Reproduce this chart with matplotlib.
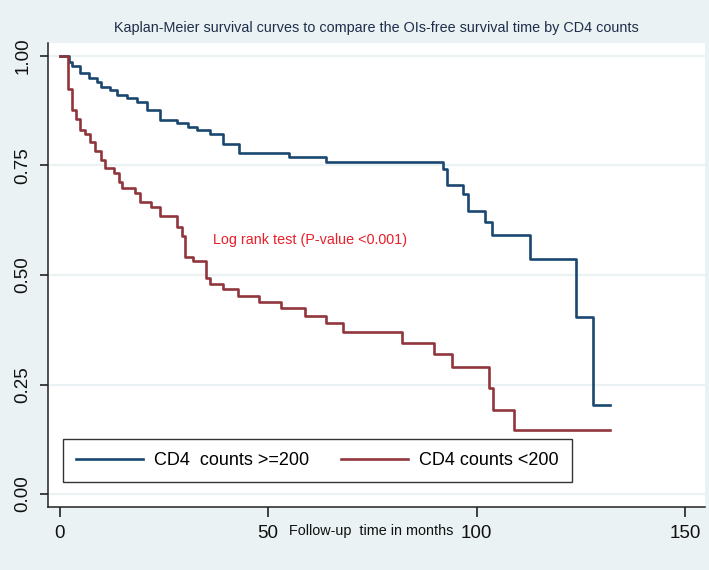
import matplotlib
matplotlib.use("Agg")
import matplotlib.pyplot as plt

# -----------------------------
# Kaplan-Meier estimates
# -----------------------------
t_hi = [0, 2.3, 3.0, 5.0, 7.0, 9.0, 10.0, 12.2, 13.8, 16.2, 18.6, 21.0, 24.0,
        28.1, 30.9, 32.9, 36.1, 39.2, 43.1, 55.1, 64.0, 92.0, 92.9, 96.8,
        97.9, 101.9, 103.7, 112.8, 123.8, 127.8, 132.0]
s_hi = [1.0, 0.987, 0.977, 0.961, 0.949, 0.941, 0.930, 0.922, 0.910, 0.903,
        0.896, 0.877, 0.854, 0.846, 0.839, 0.831, 0.822, 0.800, 0.779, 0.769,
        0.757, 0.741, 0.705, 0.686, 0.645, 0.620, 0.592, 0.536, 0.403, 0.203,
        0.203]

t_lo = [0, 2.1, 3.0, 4.0, 5.0, 6.0, 7.2, 8.6, 10.0, 11.0, 13.0, 14.2, 15.0,
        18.0, 19.2, 22.0, 24.2, 28.1, 29.3, 30.1, 32.1, 35.1, 36.1, 39.2,
        42.9, 47.9, 53.0, 58.9, 64.0, 67.9, 82.0, 89.7, 94.0, 103.0, 103.9,
        108.9, 132.0]
s_lo = [1.0, 0.924, 0.877, 0.856, 0.831, 0.822, 0.804, 0.782, 0.763, 0.744,
        0.734, 0.713, 0.698, 0.687, 0.666, 0.656, 0.635, 0.610, 0.588, 0.540,
        0.531, 0.493, 0.480, 0.468, 0.453, 0.439, 0.424, 0.407, 0.390, 0.370,
        0.345, 0.320, 0.289, 0.242, 0.192, 0.145, 0.145]

labels = ["CD4  counts >=200", "CD4 counts <200"]
xticks = [0, 50, 100, 150]
yticks = [0.0, 0.25, 0.5, 0.75, 1.0]
ytick_labels = ["0.00", "0.25", "0.50", "0.75", "1.00"]

# -----------------------------
# Style (Stata s2color look)
# -----------------------------
bg = "#eaf2f3"
navy = "#1a476f"
maroon = "#90353b"
plt.rcParams["font.family"] = ["Liberation Sans", "DejaVu Sans"]

fig = plt.figure(figsize=(7.09, 5.70), dpi=100, facecolor=bg)
ax = fig.add_axes([0.0677, 0.1105, 0.9263, 0.8141])
ax.set_facecolor("white")

ax.plot(t_hi, s_hi, drawstyle="steps-post", color=navy, lw=1.9, label=labels[0])
ax.plot(t_lo, s_lo, drawstyle="steps-post", color=maroon, lw=1.9, label=labels[1])

ax.set_xlim(-2.76, 154.7)
ax.set_ylim(-0.0297, 1.0297)
ax.set_xticks(xticks)
ax.set_yticks(yticks)
ax.set_yticklabels(ytick_labels, rotation=90, va="center")
ax.grid(axis="y", color=bg, lw=1.6)
ax.set_axisbelow(True)

for side in ["top", "right"]:
    ax.spines[side].set_visible(False)
for side in ["left", "bottom"]:
    ax.spines[side].set_color("#222222")
    ax.spines[side].set_linewidth(1.1)

ax.tick_params(axis="x", labelsize=13.5, length=7, width=1.1, pad=6, colors="#111111")
ax.tick_params(axis="y", labelsize=13.5, length=6, width=1.1, pad=6, colors="#111111")

ax.set_title("Kaplan-Meier survival curves to compare the OIs-free survival time by CD4 counts",
             fontsize=10.4, color="#1e2d4a", pad=8)
ax.set_xlabel("Follow-up  time in months", fontsize=10.4, color="#111111")
ax.xaxis.set_label_coords(0.4924, -0.037)

ax.text(36.7, 0.58, "Log rank test (P-value <0.001)", color="#e8202a", fontsize=10.4,
        va="center", ha="left")

leg = ax.legend(loc="upper left", bbox_to_anchor=(0.0228, 0.1466), ncol=2, fontsize=13,
                frameon=True, fancybox=False, handlelength=3.7, handletextpad=0.6,
                columnspacing=1.8, borderaxespad=0, borderpad=0.72)
leg.get_frame().set_edgecolor("#333333")
leg.get_frame().set_linewidth(1.0)
leg.get_frame().set_alpha(1)

fig.savefig("out.png", dpi=100, facecolor=bg)
